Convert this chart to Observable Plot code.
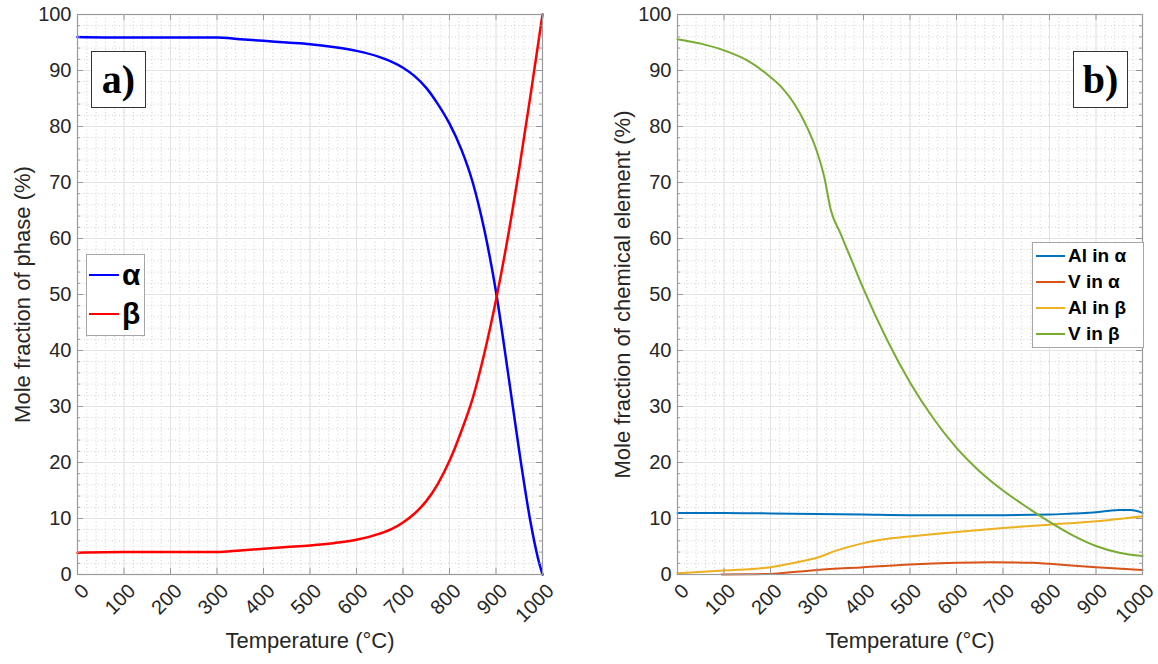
<!DOCTYPE html>
<html>
<head>
<meta charset="utf-8">
<script src="https://cdn.jsdelivr.net/npm/d3@7"></script>
<script src="https://cdn.jsdelivr.net/npm/@observablehq/plot@0.6"></script>
<style>
  html, body { margin: 0; padding: 0; background: #fff; }
  #wrap { position: relative; width: 1158px; height: 664px; overflow: hidden; font-family: "Liberation Sans", Arial, sans-serif; }
  #row { display: flex; flex-direction: row; }
  #row svg { display: block; }
  .tag { position: absolute; box-sizing: border-box; border: 1px solid #333; background: #fff;
         font-family: "Liberation Serif", "DejaVu Serif", serif; font-weight: bold; font-size: 40px; color: #000;
         display: flex; align-items: center; justify-content: center; line-height: 1; }
  .legend { position: absolute; box-sizing: border-box; border: 1px solid #a6a6a6; background: #fff; }
  .legend .item { position: absolute; left: 0; display: flex; align-items: center; font-weight: bold; color: #000; white-space: nowrap; }
  .legend .sw { display: inline-block; }
</style>
</head>
<body>
<div id="wrap">
  <div id="row"></div>
</div>
<script>
// ---------- Data: panel a) mole fraction of phase ----------
const alphaT = [0, 100, 200, 300, 350, 400, 450, 500, 550, 600, 650, 675, 700, 725, 750, 775, 800, 825, 850, 875, 900, 925, 950, 975, 990, 1000];
const alphaV = [96.0, 95.9, 95.9, 95.9, 95.6, 95.3, 95.0, 94.7, 94.2, 93.5, 92.4, 91.6, 90.5, 89.0, 86.9, 84.0, 80.5, 76.0, 70.0, 61.5, 50.5, 36.5, 22.0, 9.0, 3.0, 0.0];
const betaT  = [0, 100, 200, 300, 350, 400, 450, 500, 550, 600, 650, 675, 700, 725, 750, 775, 800, 825, 850, 875, 900, 925, 950, 975, 1000];
const betaV  = [3.9, 4.0, 4.0, 4.0, 4.3, 4.6, 4.9, 5.2, 5.6, 6.2, 7.3, 8.1, 9.3, 10.9, 13.1, 16.2, 20.3, 25.5, 31.5, 39.5, 49.0, 60.0, 72.5, 86.0, 100.0];

// ---------- Data: panel b) mole fraction of chemical element ----------
const alInAlphaT = [0, 100, 200, 300, 400, 500, 600, 700, 800, 850, 900, 930, 950, 975, 1000];
const alInAlphaV = [11.0, 11.0, 10.9, 10.8, 10.7, 10.6, 10.6, 10.6, 10.7, 10.9, 11.1, 11.4, 11.5, 11.5, 11.0];
const vInAlphaT  = [95, 150, 200, 257, 300, 400, 500, 600, 671, 764, 800, 900, 1000];
const vInAlphaV  = [0.0, 0.05, 0.1, 0.5, 0.8, 1.3, 1.8, 2.1, 2.2, 2.1, 1.9, 1.3, 0.8];
const alInBetaT  = [0, 100, 200, 257, 300, 343, 400, 464, 536, 600, 700, 800, 900, 1000];
const alInBetaV  = [0.2, 0.7, 1.3, 2.2, 3.0, 4.3, 5.6, 6.5, 7.1, 7.6, 8.3, 8.9, 9.5, 10.4];
const vInBetaT   = [0, 50, 100, 150, 200, 225, 250, 275, 300, 315, 330, 350, 375, 400, 450, 500, 550, 600, 650, 700, 750, 800, 850, 900, 950, 1000];
const vInBetaV   = [95.6, 94.8, 93.6, 91.8, 88.8, 86.9, 84.2, 80.5, 75.5, 71.2, 65.0, 61.0, 56.0, 51.0, 42.0, 34.3, 27.9, 22.6, 18.4, 15.0, 12.1, 9.4, 7.0, 5.1, 3.9, 3.3];

const xTicks = d3.range(0, 1001, 100);
const yTicks = d3.range(0, 101, 10);
const xMinor = d3.range(0, 1001, 20);
const yMinor = d3.range(0, 101, 2);

const seriesA = [
  {name: "α", color: "#0000ff", T: alphaT, V: alphaV},
  {name: "β", color: "#ff0000", T: betaT, V: betaV}
];
const seriesB = [
  {name: "Al in α", color: "#0072BD", T: alInAlphaT, V: alInAlphaV},
  {name: "V in α",  color: "#D95319", T: vInAlphaT,  V: vInAlphaV},
  {name: "Al in β", color: "#EDB120", T: alInBetaT,  V: alInBetaV},
  {name: "V in β",  color: "#77AC30", T: vInBetaT,   V: vInBetaV}
];

const H = 664, MT = 14, MB = 90;
const PH = H - MT - MB;
const axisColor = "#9a9a9a";
const textColor = "#262626";

function panel({width, ml, mr, ylabel, series, sw}) {
  const lineMarks = series.map(s =>
    Plot.line(s.T.map((t, i) => ({T: t, v: s.V[i]})), {x: "T", y: "v", stroke: s.color, strokeWidth: sw, curve: "monotone-x"})
  );
  return Plot.plot({
    width, height: H,
    marginLeft: ml, marginRight: mr, marginTop: MT, marginBottom: MB,
    style: {fontFamily: "'Liberation Sans', Arial, sans-serif", fontSize: "20px", color: textColor, background: "white"},
    x: {domain: [0, 1000]},
    y: {domain: [0, 100]},
    marks: [
      // minor grid
      Plot.ruleX(xMinor, {stroke: "#c4c4c4", strokeWidth: 0.8, strokeDasharray: "1,2.5"}),
      Plot.ruleY(yMinor, {stroke: "#c4c4c4", strokeWidth: 0.8, strokeDasharray: "1,2.5"}),
      // major grid
      Plot.ruleX(xTicks, {stroke: "#e2e2e2", strokeWidth: 1}),
      Plot.ruleY(yTicks, {stroke: "#e2e2e2", strokeWidth: 1}),
      // data
      ...lineMarks,
      // frame
      Plot.frame({stroke: axisColor, strokeWidth: 1.2}),
      // inward ticks: x major bottom/top
      Plot.ruleX(xTicks, {insetTop: PH - 6, stroke: axisColor}),
      Plot.ruleX(xTicks, {insetBottom: PH - 6, stroke: axisColor}),
      // y major left/right
      Plot.ruleY(yTicks, {insetRight: width - ml - mr - 6, stroke: axisColor}),
      Plot.ruleY(yTicks, {insetLeft: width - ml - mr - 6, stroke: axisColor}),
      // y minor left/right
      Plot.ruleY(yMinor, {insetRight: width - ml - mr - 3, stroke: axisColor}),
      Plot.ruleY(yMinor, {insetLeft: width - ml - mr - 3, stroke: axisColor}),
      // axes text
      Plot.axisX({ticks: xTicks, tickFormat: d => String(d), tickSize: 0, tickRotate: -45, tickPadding: 13, dx: 8, fontSize: 20, label: null, fill: textColor}),
      Plot.axisY({ticks: yTicks, tickFormat: d => String(d), tickSize: 0, tickPadding: 6, fontSize: 20, label: null, fill: textColor}),
      Plot.text([ "Temperature (°C)" ], {frameAnchor: "bottom", textAnchor: "middle", dy: 73, fontSize: 22, fill: textColor}),
      Plot.text([ ylabel ], {frameAnchor: "left", textAnchor: "middle", rotate: -90, dx: -55, fontSize: 22, fill: textColor})
    ]
  });
}

const row = document.getElementById("row");
row.appendChild(panel({width: 579, ml: 77, mr: 37, ylabel: "Mole fraction of phase (%)", series: seriesA, sw: 2.5}));
row.appendChild(panel({width: 579, ml: 98, mr: 16, ylabel: "Mole fraction of chemical element (%)", series: seriesB, sw: 2}));

const wrap = document.getElementById("wrap");
function tag(text, left, top) {
  const d = document.createElement("div");
  d.className = "tag";
  d.style.left = left + "px"; d.style.top = top + "px";
  d.style.width = "55px"; d.style.height = "57px";
  d.textContent = text;
  wrap.appendChild(d);
}
tag("a)", 91, 51);
tag("b)", 1073, 51);

function legend(series, left, top, w, h, rows, lineX, lineW, fontSize, sw) {
  const box = document.createElement("div");
  box.className = "legend";
  box.style.left = left + "px"; box.style.top = top + "px";
  box.style.width = w + "px"; box.style.height = h + "px";
  series.forEach((s, i) => {
    const it = document.createElement("div");
    it.className = "item";
    it.style.top = (rows[i] - top - fontSize * 0.6) + "px";
    it.style.height = (fontSize * 1.2) + "px";
    it.style.fontSize = fontSize + "px";
    it.style.paddingLeft = lineX + "px";
    const swEl = document.createElement("span");
    swEl.className = "sw";
    swEl.style.width = lineW + "px";
    swEl.style.height = sw + "px";
    swEl.style.background = s.color;
    swEl.style.marginRight = "3px";
    it.appendChild(swEl);
    const t = document.createElement("span");
    t.textContent = s.name;
    it.appendChild(t);
    box.appendChild(it);
  });
  wrap.appendChild(box);
}
legend(seriesA, 86, 254, 59, 82, [274, 313], 2, 30, 30, 2.5);
legend(seriesB, 1032, 242, 112, 106, [255, 281, 307, 333], 3, 29, 19, 2.5);
</script>
</body>
</html>
